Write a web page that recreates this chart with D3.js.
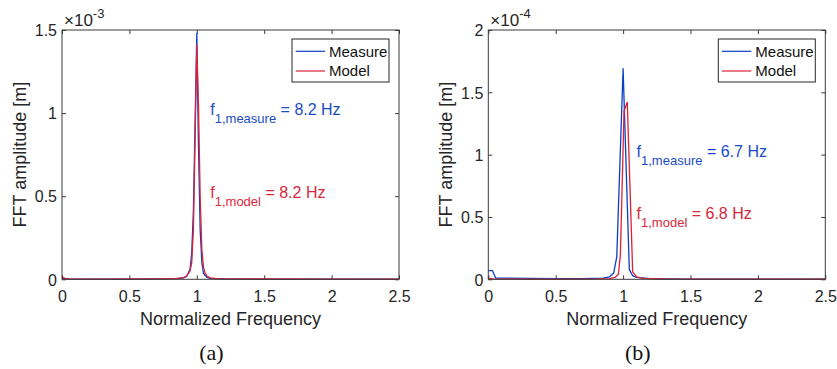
<!DOCTYPE html>
<html><head><meta charset="utf-8">
<script src="https://cdn.jsdelivr.net/npm/d3@7"></script>
<style>body{margin:0;background:#fff}svg{display:block}text{font-family:"Liberation Sans",Arial,sans-serif}</style>
</head><body>
<svg id="c" width="837" height="369"></svg>
<script>
// ---- data ----
const xTicks = [0, 0.5, 1, 1.5, 2, 2.5];
const yTicksA = [0, 0.5, 1, 1.5];
const yTicksB = [0, 0.5, 1, 1.5, 2];
const seriesNames = ["Measure", "Model"];

// Panel (a): amplitude in units of 1e-3 m
const measureA_x = [0, 0.02, 0.05, 0.3, 0.7, 0.85, 0.9, 0.925, 0.95, 0.9625, 0.975, 0.9875, 1.0, 1.0125, 1.025, 1.0375, 1.05, 1.075, 1.1, 1.2, 1.5, 2.0, 2.5];
const measureA_y = [0.012, 0.004, 0.002, 0.001, 0.002, 0.004, 0.008, 0.018, 0.06, 0.16, 0.42, 0.95, 1.48, 0.8, 0.3, 0.1, 0.035, 0.012, 0.006, 0.002, 0.001, 0.0005, 0.0003];
const modelA_x = [0, 0.02, 0.05, 0.3, 0.7, 0.85, 0.9, 0.925, 0.95, 0.9625, 0.975, 0.9875, 1.0, 1.0125, 1.025, 1.0375, 1.05, 1.0625, 1.075, 1.1, 1.15, 1.3, 2.0, 2.5];
const modelA_y = [0.015, 0.006, 0.003, 0.001, 0.002, 0.005, 0.01, 0.02, 0.05, 0.1, 0.3, 0.85, 1.41, 1.05, 0.5, 0.18, 0.07, 0.035, 0.02, 0.009, 0.004, 0.002, 0.0007, 0.0004];

// Panel (b): amplitude in units of 1e-4 m
const measureB_x = [0, 0.03, 0.055, 0.3, 0.5, 0.7, 0.85, 0.9, 0.93, 0.953, 1.0, 1.046, 1.07, 1.1, 1.2, 1.5, 2.5];
const measureB_y = [0.07, 0.07, 0.01, 0.008, 0.006, 0.005, 0.01, 0.02, 0.05, 0.18, 1.69, 0.08, 0.03, 0.015, 0.006, 0.002, 0.001];
const modelB_x = [0, 0.03, 0.1, 0.5, 0.8, 0.9, 0.94, 0.965, 0.98, 1.007, 1.031, 1.071, 1.1, 1.15, 1.3, 2.0, 2.5];
const modelB_y = [0.01, 0.004, 0.002, 0.002, 0.003, 0.006, 0.015, 0.04, 0.2, 1.35, 1.42, 0.06, 0.02, 0.008, 0.003, 0.001, 0.0005];

const panels = [
  {ox: 0, left: 62, yMax: 1.5, yTicks: yTicksA, exp: "-3", label: "(a)",
   series: [{x: measureA_x, y: measureA_y}, {x: modelA_x, y: modelA_y}],
   notes: [{sub: "1,measure", val: "8.2 Hz", x: 1.1, y: 1.0}, {sub: "1,model", val: "8.2 Hz", x: 1.1, y: 0.5}]},
  {ox: 420, left: 68.3, yMax: 2, yTicks: yTicksB, exp: "-4", label: "(b)",
   series: [{x: measureB_x, y: measureB_y}, {x: modelB_x, y: modelB_y}],
   notes: [{sub: "1,measure", val: "6.7 Hz", x: 1.1, y: 1.0}, {sub: "1,model", val: "6.8 Hz", x: 1.1, y: 0.5}]}
];
const colors = ["#0b3fc6", "#dd2236"];
const textColors = ["#1a4bc4", "#d8283a"];

const svg = d3.select("#c");
const W = 337, plotTop = 30, plotBottom = 279.3;
const axisCol = "#3a3a3a";

panels.forEach(p => {
  const g = svg.append("g").attr("transform", `translate(${p.ox},0)`);
  const L = p.left, R = L + W;
  const x = d3.scaleLinear().domain([0, 2.5]).range([L, R]);
  const y = d3.scaleLinear().domain([0, p.yMax]).range([plotBottom, plotTop]);
  const fmt = d => d3.format("~g")(d);

  // axes
  const ax = g.append("g").attr("transform", `translate(0,${plotBottom})`)
    .call(d3.axisBottom(x).tickValues(xTicks).tickFormat(fmt).tickSizeInner(-4).tickSizeOuter(0).tickPadding(11));
  const axT = g.append("g").attr("transform", `translate(0,${plotTop})`)
    .call(d3.axisTop(x).tickValues(xTicks).tickFormat("").tickSizeInner(-4).tickSizeOuter(0));
  const ay = g.append("g").attr("transform", `translate(${L},0)`)
    .call(d3.axisLeft(y).tickValues(p.yTicks).tickFormat(fmt).tickSizeInner(-4).tickSizeOuter(0).tickPadding(5));
  const ayR = g.append("g").attr("transform", `translate(${R},0)`)
    .call(d3.axisRight(y).tickValues(p.yTicks).tickFormat("").tickSizeInner(-4).tickSizeOuter(0));
  [ax, axT, ay, ayR].forEach(a => {
    a.select(".domain").remove();
    a.selectAll("line").attr("stroke", axisCol);
    a.selectAll("text").attr("font-size", 16).attr("fill", "#262626");
  });
  ay.selectAll("text").attr("dy", "0.36em");

  // lines
  const line = d3.line().x(d => x(d[0])).y(d => y(d[1]));
  p.series.forEach((s, i) => {
    const pts = s.x.map((v, k) => [v, s.y[k]]);
    g.append("path").attr("d", line(pts)).attr("fill", "none")
      .attr("stroke", colors[i]).attr("stroke-width", 1.3).attr("stroke-linejoin", "round");
  });

  // box
  g.append("rect").attr("x", L).attr("y", plotTop).attr("width", W).attr("height", plotBottom - plotTop)
    .attr("fill", "none").attr("stroke", axisCol).attr("stroke-width", 1);

  // exponent
  const et = g.append("text").attr("x", L + 2).attr("y", 26).attr("font-size", 17).attr("fill", "#262626");
  et.append("tspan").text("\u00d710");
  et.append("tspan").attr("dy", -8).attr("font-size", 13).text(p.exp);

  // axis labels
  g.append("text").attr("x", L + W / 2).attr("y", 325).attr("text-anchor", "middle")
    .attr("font-size", 18).attr("fill", "#262626").text("Normalized Frequency");
  g.append("text").attr("transform", `translate(${L - 36},${(plotTop + plotBottom) / 2}) rotate(-90)`)
    .attr("text-anchor", "middle").attr("font-size", 18).attr("fill", "#262626").text("FFT amplitude [m]");

  // panel label
  g.append("text").attr("x", L + W / 2 - 19).attr("y", 360).attr("text-anchor", "middle")
    .attr("font-size", 22).style("font-family", '"Liberation Serif","Times New Roman",serif')
    .attr("fill", "#111").text(p.label);

  // annotations
  p.notes.forEach((n, i) => {
    const t = g.append("text").attr("x", x(n.x)).attr("y", y(n.y) + 2)
      .attr("fill", textColors[i]).attr("font-size", 16);
    t.append("tspan").text("f");
    t.append("tspan").attr("dy", 8).attr("font-size", 13).text(n.sub);
    t.append("tspan").attr("dy", -8).text(" = " + n.val);
  });

  // legend
  const lgx = R - 107, lgy = 39;
  const lg = g.append("g");
  lg.append("rect").attr("x", lgx).attr("y", lgy).attr("width", 97).attr("height", 43)
    .attr("fill", "#fff").attr("stroke", "#262626").attr("stroke-width", 1);
  seriesNames.forEach((nm, i) => {
    const yy = lgy + 12.3 + i * 19.7;
    lg.append("line").attr("x1", lgx + 3.7).attr("x2", lgx + 33).attr("y1", yy).attr("y2", yy)
      .attr("stroke", colors[i]).attr("stroke-width", 1.2);
    lg.append("text").attr("x", lgx + 37).attr("y", yy + 5.4).attr("font-size", 15)
      .attr("fill", "#111").text(nm);
  });
});
</script>
</body></html>
